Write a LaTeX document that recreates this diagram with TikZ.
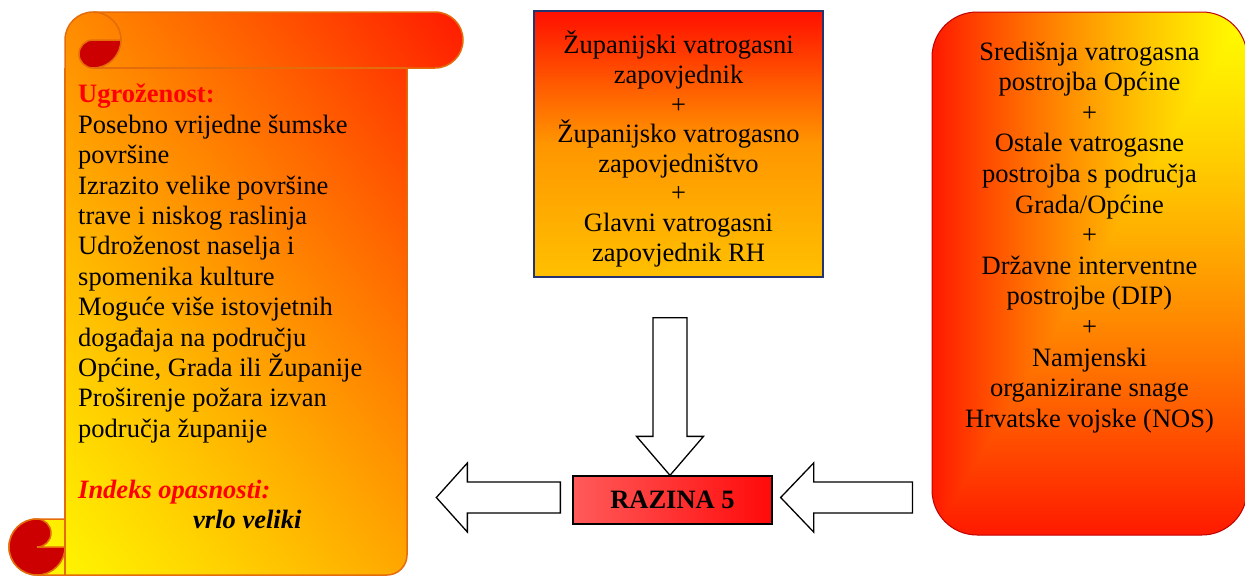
\documentclass[tikz,border=0pt]{standalone}
\usepackage{fontspec}
\setmainfont{Liberation Serif}
\usepackage{tikz}
\usetikzlibrary{positioning,calc}

\definecolor{scrollline}{RGB}{228,108,10}
\definecolor{curlred}{RGB}{204,0,0}
\definecolor{boxnavy}{RGB}{36,52,110}
\definecolor{ugred}{RGB}{255,0,0}
\definecolor{unitline}{RGB}{192,0,0}

% yellow (bottom left) to red (top right)
\pgfdeclarefunctionalshading{scrollfade}{\pgfpoint{-25bp}{-25bp}}{\pgfpoint{25bp}{25bp}}{}{
  25 add 50 div exch 25 add 50 div add 2 div
  dup dup mul 0.2 mul exch 0.7 mul add 1 exch sub 1 exch 0
}
% yellow in the top right corner, red at left and bottom edge
\pgfdeclarefunctionalshading{cornerfade}{\pgfpoint{-25bp}{-25bp}}{\pgfpoint{25bp}{25bp}}{}{
  25 exch sub 50 div exch 25 exch sub 50 div
  2 copy lt {exch} if pop
  dup dup mul 0.28 mul exch 0.62 mul add 1 exch sub 1 exch 0
}

\begin{document}
\begin{tikzpicture}[x=1pt,y=-1pt,
  every node/.style={font=\fontsize{26.5}{30.5}\selectfont},
  scrolledge/.style={draw=scrollline,line width=1.5pt},
  curl/.style={fill=curlred,draw=scrollline,line width=1.5pt},
  cmdrbox/.style={draw=boxnavy,line width=1.5pt,
    top color={rgb,255:red,255;green,16;blue,0},
    bottom color={rgb,255:red,255;green,192;blue,0},
    middle color={rgb,255:red,255;green,150;blue,0},
    minimum width=289pt,minimum height=266pt,inner sep=0pt},
  unitbox/.style={shade,shading=cornerfade,draw=unitline,line width=1pt,
    rounded corners=45pt,minimum width=315pt,minimum height=523pt,inner sep=0pt},
  levelbox/.style={draw=black,line width=1.3pt,
    left color={rgb,255:red,255;green,90;blue,90},
    right color={rgb,255:red,255;green,10;blue,10},
    minimum width=199pt,minimum height=48pt,inner sep=0pt},
  blockarrow/.style={draw=black,fill=white,line width=1.3pt,line join=miter}]

\useasboundingbox (0,0) rectangle (1245,576);

% scroll
\shadedraw[shading=scrollfade,scrolledge] (65,40) arc[start angle=180,end angle=270,radius=28]
  -- (435,12) arc[start angle=270,end angle=450,radius=28] -- (407,68) -- (407,555)
  arc[start angle=0,end angle=90,radius=20] -- (37,575)
  arc[start angle=90,end angle=270,radius=28] -- (65,519) -- cycle;
\draw[scrolledge] (93,12) arc[start angle=270,end angle=360,radius=28];
\draw[scrolledge] (93,68) -- (407,68);
\draw[scrolledge] (65,68) -- (65,575);
\filldraw[curl] (121,40) arc[start angle=0,end angle=90,radius=28] arc[start angle=90,end angle=270,radius=14] -- cycle;
\filldraw[curl] (65,547) arc[start angle=0,end angle=270,radius=28] arc[start angle=270,end angle=450,radius=14] -- cycle;

\node[anchor=north west,align=left,inner sep=0pt,font=\fontsize{26.5}{30.4}\selectfont] (risk) at (78,84) {%
  {\color{ugred}\textbf{Ugroženost:}}\\
  Posebno vrijedne šumske\\
  površine\\
  Izrazito velike površine\\
  trave i niskog raslinja\\
  Udroženost naselja i\\
  spomenika kulture\\
  Moguće više istovjetnih\\
  događaja na području\\
  Općine, Grada ili Županije\\
  Proširenje požara izvan\\
  područja županije\\[30.4pt]
  {\color{ugred}\textbf{\textit{Indeks opasnosti:}}}\\
  \hspace*{115pt}\textbf{\textit{vrlo veliki}}};

\node[cmdrbox] (cmdr) at (678.5,144) {};
\node[align=center,inner sep=0pt,font=\fontsize{26.5}{29.6}\selectfont] (cmdrtext) at ($(cmdr.center)+(0,5)$) {Županijski vatrogasni\\zapovjednik\\+\\Županijsko vatrogasno\\zapovjedništvo\\+\\Glavni vatrogasni\\zapovjednik RH};

\node[unitbox] (units) at (1089.5,273.5) {};
\node[anchor=north,align=center,inner sep=0pt,font=\fontsize{26.5}{30.6}\selectfont] (unitstext) at ($(units.north)+(0,30)$) {Središnja vatrogasna\\postrojba Općine\\+\\Ostale vatrogasne\\postrojba s područja\\Grada/Općine\\+\\Državne interventne\\postrojbe (DIP)\\+\\Namjenski\\organizirane snage\\Hrvatske vojske (NOS)};

\node[levelbox] (razina) at (672.5,500) {\textbf{RAZINA 5}};

% arrows
\coordinate (downtip) at ($(razina.north)+(-2.5,0)$);
\coordinate (downtop) at ($(cmdr.south)+(-8.5,40)$);
\draw[blockarrow] (downtip) -- ++(-33.5,-39) -- ++(16.5,0) -- ($(downtop)+(-17,0)$)
  -- ($(downtop)+(17,0)$) -- ($(downtip)+(17,-39)$) -- ++(16.5,0) -- cycle;

\coordinate (lefttip) at ($(razina.west)+(-136,-2.5)$);
\coordinate (leftend) at ($(razina.west)+(-12,-2.5)$);
\draw[blockarrow] (lefttip) -- ++(31,-34.5) -- ++(0,19) -- ($(leftend)+(0,-15.5)$)
  -- ($(leftend)+(0,15.5)$) -- ($(lefttip)+(31,15.5)$) -- ++(0,19) -- cycle;

\coordinate (righttip) at ($(razina.east)+(8,-2.5)$);
\coordinate (rightend) at ($(units.west |- razina.east)+(-19,-2.5)$);
\draw[blockarrow] (righttip) -- ++(33,-34.5) -- ++(0,19) -- ($(rightend)+(0,-15.5)$)
  -- ($(rightend)+(0,15.5)$) -- ($(righttip)+(33,15.5)$) -- ++(0,19) -- cycle;
\end{tikzpicture}
\end{document}
